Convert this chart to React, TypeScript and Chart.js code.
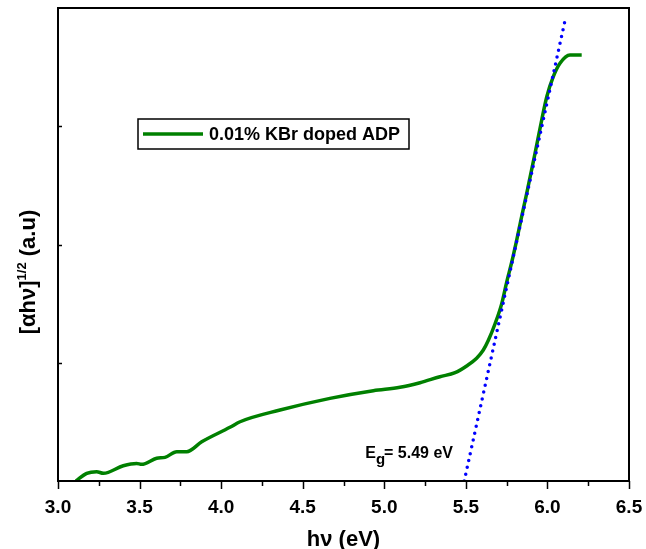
import React, { useEffect, useRef } from "react";
import { Chart, registerables } from "chart.js";

Chart.register(...registerables);

// Measured spectrum: photon energy (eV) and (αhν)^1/2 (a.u.)
const energy = [
  3.11, 3.176, 3.237, 3.278, 3.4, 3.482, 3.513, 3.605, 3.656, 3.728, 3.789, 3.881,
  4.054, 4.116, 4.361, 4.667, 4.933, 5.096, 5.219, 5.341, 5.434, 5.505, 5.566,
  5.607, 5.638, 5.679, 5.72, 5.75, 5.781, 5.812, 5.842, 5.873, 5.924, 5.965,
  5.996, 6.036, 6.077, 6.138, 6.21,
];
const absorbance = [
  0.0, 0.065, 0.079, 0.065, 0.129, 0.149, 0.141, 0.192, 0.2, 0.248, 0.248, 0.332,
  0.454, 0.501, 0.6, 0.699, 0.764, 0.792, 0.831, 0.882, 0.916, 0.973, 1.038,
  1.108, 1.19, 1.33, 1.5, 1.68, 1.85, 2.04, 2.235, 2.433, 2.771, 3.053,
  3.25, 3.419, 3.532, 3.602, 3.602,
];
// Linear fit (Tauc extrapolation)
const fitEnergy = [5.49, 6.112];
const fitValue = [0, 3.92];

const seriesLabel = "0.01% KBr doped ADP";
const gapLabel = "= 5.49 eV";
const xMin = 3.0;
const xMax = 6.5;
const yMin = 0;
const yMax = 4;
const majorStep = 0.5;
const minorStep = 0.25;
const yTickValues = [1, 2, 3];

const FONT = "'Liberation Sans', Arial, sans-serif";

const decorPlugin = {
  id: "decor",
  afterDraw(chart: any) {
    const { ctx, chartArea } = chart;
    const { left, right, top, bottom } = chartArea;
    const xs = chart.scales.x;
    const ys = chart.scales.y;
    ctx.save();
    // frame
    ctx.strokeStyle = "#000";
    ctx.lineWidth = 2;
    ctx.strokeRect(left, top, right - left, bottom - top);
    // x ticks (outward)
    ctx.lineWidth = 1.5;
    for (let v = xMin; v <= xMax + 1e-9; v += minorStep) {
      const px = Math.round(xs.getPixelForValue(v)) + 0.5;
      const major = Math.abs(v / majorStep - Math.round(v / majorStep)) < 1e-6;
      ctx.beginPath();
      ctx.moveTo(px, bottom);
      ctx.lineTo(px, bottom + (major ? 8 : 5));
      ctx.stroke();
    }
    // y ticks (inward)
    for (const v of yTickValues) {
      const py = Math.round(ys.getPixelForValue(v)) + 0.5;
      ctx.beginPath();
      ctx.moveTo(left, py);
      ctx.lineTo(left + 4, py);
      ctx.stroke();
    }
    // x title
    ctx.fillStyle = "#000";
    ctx.font = `bold 22px ${FONT}`;
    ctx.textAlign = "center";
    ctx.textBaseline = "alphabetic";
    ctx.fillText("h\u03bd (eV)", (left + right) / 2, 546);
    // y title (rotated, with superscript)
    ctx.save();
    ctx.translate(35, 272);
    ctx.rotate(-Math.PI / 2);
    const big = `bold 22px ${FONT}`;
    const small = `bold 13px ${FONT}`;
    const p1 = "[\u03b1h\u03bd]";
    const p2 = "1/2";
    const p3 = " (a.u)";
    ctx.font = big;
    const w1 = ctx.measureText(p1).width;
    const w3 = ctx.measureText(p3).width;
    ctx.font = small;
    const w2 = ctx.measureText(p2).width;
    const total = w1 + w2 + w3;
    let cx = -total / 2;
    ctx.textAlign = "left";
    ctx.font = big;
    ctx.fillText(p1, cx, 0);
    cx += w1;
    ctx.font = small;
    ctx.fillText(p2, cx, -9);
    cx += w2;
    ctx.font = big;
    ctx.fillText(p3, cx, 0);
    ctx.restore();
    ctx.textAlign = "left";
    // legend box
    const lx = left + 80;
    const ly = top + 111;
    ctx.lineWidth = 1.5;
    ctx.strokeStyle = "#000";
    ctx.strokeRect(lx, ly, 271, 30);
    ctx.strokeStyle = chart.data.datasets[0].borderColor;
    ctx.lineWidth = 3.5;
    ctx.beginPath();
    ctx.moveTo(lx + 5, ly + 15);
    ctx.lineTo(lx + 65, ly + 15);
    ctx.stroke();
    ctx.fillStyle = "#000";
    ctx.font = `bold 18px ${FONT}`;
    ctx.textBaseline = "middle";
    ctx.fillText(chart.data.datasets[0].label, lx + 71, ly + 16);
    // Eg annotation
    const ex = xs.getPixelForValue(fitEnergy[0]) - 99;
    const ey = bottom - 23;
    ctx.textBaseline = "alphabetic";
    ctx.font = `bold 16px ${FONT}`;
    ctx.fillText("E", ex, ey);
    const we = ctx.measureText("E").width;
    ctx.font = `bold 15px ${FONT}`;
    ctx.fillText("g", ex + we, ey + 6);
    const wg = ctx.measureText("g").width;
    ctx.font = `bold 16px ${FONT}`;
    ctx.fillText(gapLabel, ex + we + wg - 1, ey);
    ctx.restore();
  },
};

export default function App() {
  const ref = useRef<HTMLCanvasElement>(null);
  useEffect(() => {
    if (!ref.current) return;
    const chart = new Chart(ref.current, {
      type: "line",
      data: {
        datasets: [
          {
            label: seriesLabel,
            data: energy.map((x, i) => ({ x, y: absorbance[i] })),
            borderColor: "#008000",
            borderWidth: 3.5,
            pointRadius: 0,
            cubicInterpolationMode: "monotone",
            fill: false,
            order: 1,
          },
          {
            label: "fit",
            data: fitEnergy.map((x, i) => ({ x, y: fitValue[i] })),
            borderColor: "#0000ff",
            borderWidth: 3.5,
            borderDash: [0, 7],
            borderCapStyle: "round",
            pointRadius: 0,
            fill: false,
            order: 0,
          },
        ],
      },
      options: {
        animation: false,
        responsive: false,
        maintainAspectRatio: false,
        layout: { padding: { left: 0, right: 17, top: 8, bottom: 0 } },
        plugins: { legend: { display: false }, tooltip: { enabled: false } },
        scales: {
          x: {
            type: "linear",
            min: xMin,
            max: xMax,
            afterFit: (s: any) => {
              s.height = 68;
              s.paddingLeft = 0;
              s.paddingRight = 0;
            },
            grid: { display: false, drawTicks: false },
            border: { display: false },
            ticks: {
              stepSize: majorStep,
              padding: 15,
              color: "#000",
              font: { family: FONT, size: 19, weight: "bold" },
              callback: (v: any) => Number(v).toFixed(1),
              maxRotation: 0,
              autoSkip: false,
            },
          },
          y: {
            type: "linear",
            min: yMin,
            max: yMax,
            afterFit: (s: any) => {
              s.width = 58;
              s.paddingTop = 0;
              s.paddingBottom = 0;
            },
            grid: { display: false, drawTicks: false },
            border: { display: false },
            ticks: { display: false },
          },
        },
      },
      plugins: [decorPlugin],
    } as any);
    return () => chart.destroy();
  }, []);
  return (
    <div style={{ position: "fixed", left: 0, top: 0, width: 646, height: 549, background: "#fff" }}>
      <canvas ref={ref} width={646} height={549} style={{ width: 646, height: 549 }} />
    </div>
  );
}
